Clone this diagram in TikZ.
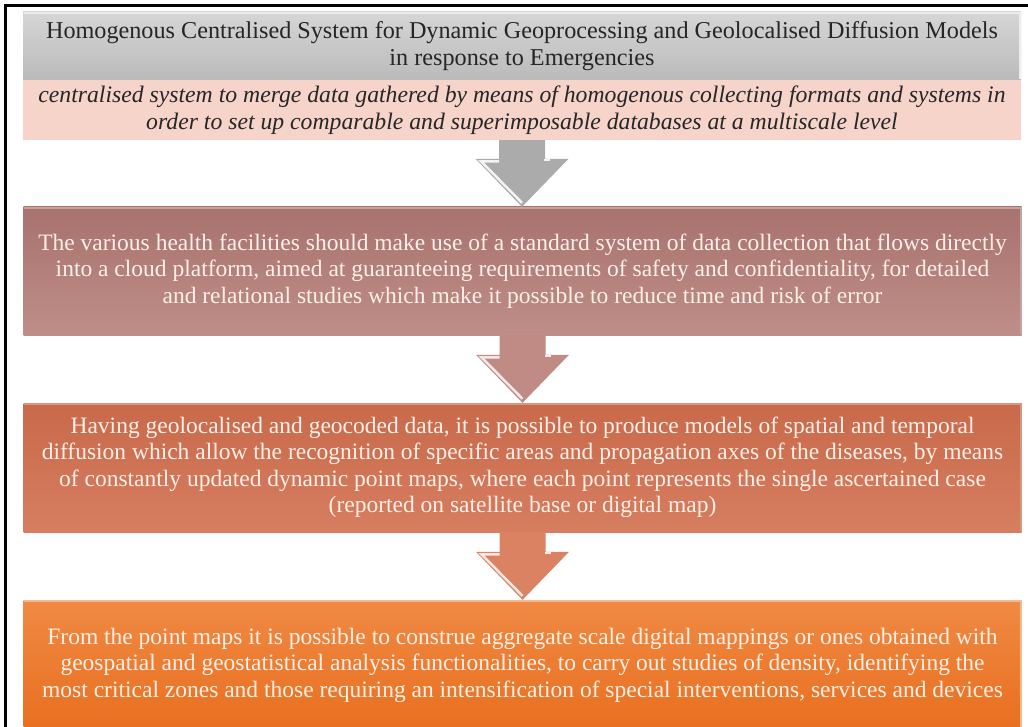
\documentclass[tikz,border=0pt]{standalone}
\usepackage{fontspec}
\setmainfont{Liberation Serif}
\usetikzlibrary{calc}

\definecolor{titleTop}{HTML}{D6D6D6}
\definecolor{titleBot}{HTML}{BABABA}
\definecolor{pinkFill}{HTML}{F6D4CA}
\definecolor{mauveTop}{HTML}{A8726D}
\definecolor{mauveBot}{HTML}{BF8E89}
\definecolor{rustTop}{HTML}{C8694B}
\definecolor{rustBot}{HTML}{D77E60}
\definecolor{orangeTop}{HTML}{F08A44}
\definecolor{orangeBot}{HTML}{E86F1F}
\definecolor{arrowGray}{HTML}{ABABAB}
\definecolor{arrowMauve}{HTML}{C08A85}
\definecolor{arrowRust}{HTML}{DA8262}
\definecolor{creamText}{HTML}{FBF0E8}
\definecolor{darkText}{HTML}{262626}

\newcommand{\boxbevel}[2]{%
  \draw[#2, line width=2pt]
    ([shift={(1pt,-1pt)}]#1.north west) -- ([shift={(-1pt,-1pt)}]#1.north east)
    -- ([shift={(-1pt,1pt)}]#1.south east);}

\newcommand{\flowarrow}[4]{%
  \fill[#3] let \p1=(#1.south), \p2=(#2.north) in
    (\x1-23pt,\y1) -- (\x1+23pt,\y1) -- (\x1+23pt,\y2+48pt)
    -- (\x1+46.5pt,\y2+48pt) -- (\x1,\y2) -- (\x1-46.5pt,\y2+48pt)
    -- (\x1-23pt,\y2+48pt) -- cycle;
  \draw[#4, line width=2.5pt, line join=miter] let \p1=(#1.south), \p2=(#2.north) in
    (\x1-23pt,\y2+45.5pt) -- (\x1-41pt,\y2+45.5pt) -- (\x1,\y2+4pt);
  \draw[#4, line width=2pt] let \p1=(#1.south), \p2=(#2.north) in
    (\x1+22pt,\y2+46.5pt) -- (\x1+28pt,\y2+46.5pt);}

\begin{document}
\begin{tikzpicture}[x=1pt,y=-1pt,
  stage/.style={rectangle, minimum width=998pt, inner sep=0pt, align=center,
    font=\fontsize{23.5}{26.5}\selectfont},
  darkstage/.style={stage, text=creamText}]
\useasboundingbox (0,0) rectangle (1028,727);
\fill[white] (0,0) rectangle (1028,727);

\node[stage, minimum height=68pt, top color=titleTop, bottom color=titleBot, text=darkText,
      font=\fontsize{24.2}{26.5}\selectfont] (title) at (522,46)
  {Homogenous Centralised System for Dynamic Geoprocessing and Geolocalised Diffusion Models\\ in response to Emergencies};
\node[stage, minimum height=60pt, fill=pinkFill, text=darkText, font=\fontsize{23.7}{26.5}\selectfont\itshape] (intro) at (522,110)
  {centralised system to merge data gathered by means of homogenous collecting formats and systems in\\ order to set up comparable and superimposable databases at a multiscale level};
\node[darkstage, minimum height=128pt, top color=mauveTop, bottom color=mauveBot] (cloud) at (522.5,271)
  {The various health facilities should make use of a standard system of data collection that flows directly\\
   into a cloud platform, aimed at guaranteeing requirements of safety and confidentiality, for detailed\\
   and relational studies which make it possible to reduce time and risk of error};
\node[darkstage, minimum height=129pt, top color=rustTop, bottom color=rustBot] (models) at (522.5,467.5)
  {Having geolocalised and geocoded data, it is possible to produce models of spatial and temporal\\
   diffusion which allow the recognition of specific areas and propagation axes of the diseases, by means\\
   of constantly updated dynamic point maps, where each point represents the single ascertained case\\
   (reported on satellite base or digital map)};
\node[darkstage, minimum height=130pt, top color=orangeTop, bottom color=orangeBot] (maps) at (522.5,665)
  {From the point maps it is possible to construe aggregate scale digital mappings or ones obtained with\\
   geospatial and geostatistical analysis functionalities, to carry out studies of density, identifying the\\
   most critical zones and those requiring an intensification of special interventions, services and devices};

\boxbevel{title}{white!55!titleTop}
\boxbevel{cloud}{white!35!mauveTop}
\boxbevel{models}{white!30!rustTop}
\boxbevel{maps}{white!40!orangeTop}

\flowarrow{intro}{cloud}{arrowGray}{white!85!arrowGray}
\flowarrow{cloud}{models}{arrowMauve}{white!80!arrowMauve}
\flowarrow{models}{maps}{arrowRust}{white!80!arrowRust}

% outer frame (left and top edges)
\draw[line width=3pt] (5.5,727) -- (5.5,5.5) -- (1028,5.5);
\end{tikzpicture}
\end{document}
